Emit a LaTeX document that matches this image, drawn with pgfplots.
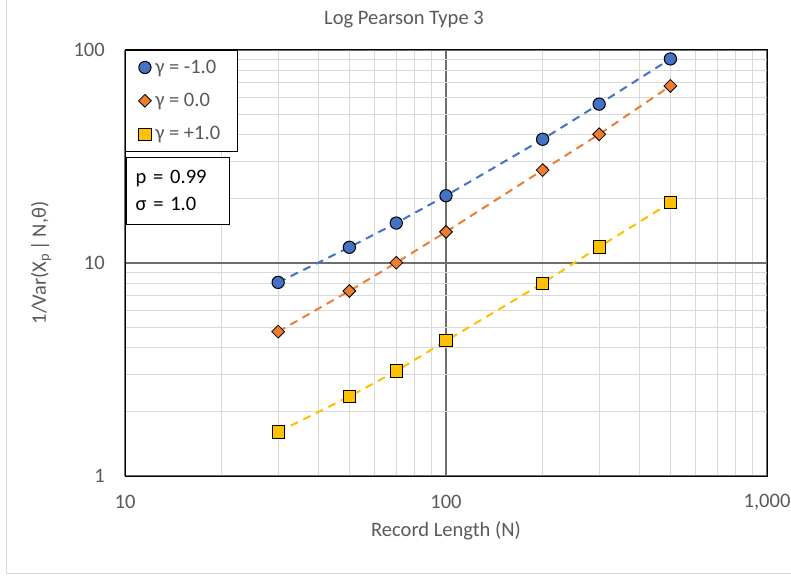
\documentclass[border=0pt]{standalone}
\usepackage{fontspec}
\setmainfont{Carlito}
\usepackage{pgfplots}
\pgfplotsset{compat=1.18}
\newcommand\px{0.75pt}
\definecolor{cblue}{HTML}{4472C4}
\definecolor{corange}{HTML}{ED7D31}
\definecolor{cyellow}{HTML}{FFC000}
\definecolor{tgray}{HTML}{595959}
\definecolor{mgrid}{HTML}{D9D9D9}
\definecolor{Mgrid}{HTML}{6E6E6E}
\definecolor{bgray}{HTML}{D9D9D9}
\begin{document}
\begin{tikzpicture}
\useasboundingbox (-125*\px,-99*\px) rectangle (666*\px,476*\px);
\draw[bgray, line width=0.75pt] (-118*\px,476*\px) -- (-118*\px,-97*\px) -- (666*\px,-97*\px);
\begin{loglogaxis}[
  at={(0,0)}, anchor=south west,
  scale only axis,
  width=642*\px, height=426*\px,
  xmin=10, xmax=1000, ymin=1, ymax=100,
  xtick={10,100,1000}, xticklabels={10,100,{1,000}},
  ytick={1,10,100}, yticklabels={1,10,100},
  major tick length=0pt, minor tick length=0pt,
  grid=both,
  minor grid style={draw=mgrid, line width=0.75pt},
  major grid style={draw=Mgrid, line width=1pt},
  axis line style={draw=black, line width=0.75pt},
  tick label style={font=\fontsize{15.4}{18}\selectfont, text=tgray},
  /pgf/number format/assume math mode=true,
  xticklabel style={anchor=center, inner sep=0pt, yshift=-26*\px},
  yticklabel style={anchor=east, inner sep=0pt, xshift=-20*\px},
  legend cell align=left,
  legend image code/.code={\draw[#1] plot coordinates {(0cm,0cm)};},
  legend style={at={(0,1)}, anchor=north west, draw=black, line width=0.75pt, fill=white,
    font=\fontsize{15.4}{18}\selectfont, text=tgray,
    inner xsep=9.75pt, inner ysep=4pt, row sep=7.5pt,
    nodes={inner sep=3pt}},
]
% dashed connecting lines
\addplot[forget plot, cblue, dashed, line width=1.5pt, dash pattern=on 6pt off 4.5pt] coordinates {
 (30,8.11) (50,11.85) (70,15.4) (100,20.7) (200,38.1) (300,55.7) (500,90.8)};
\addplot[forget plot, corange, dashed, line width=1.5pt, dash pattern=on 6pt off 4.5pt] coordinates {
 (30,4.76) (50,7.39) (70,10.03) (100,14.0) (200,27.3) (300,40.2) (500,67.8)};
\addplot[forget plot, cyellow, dashed, line width=1.5pt, dash pattern=on 6pt off 4.5pt] coordinates {
 (30,1.61) (50,2.36) (70,3.11) (100,4.31) (200,8.03) (300,11.9) (500,19.2)};
% markers
\addplot[only marks, mark=*, mark size=4.6pt, mark options={fill=cblue, draw=black, line width=0.75pt}] coordinates {
 (30,8.11) (50,11.85) (70,15.4) (100,20.7) (200,38.1) (300,55.7) (500,90.8)};
\addlegendentry{γ = -1.0}
\addplot[only marks, mark=square*, mark size=3.4pt, mark options={rotate=45, fill=corange, draw=black, line width=0.6pt}] coordinates {
 (30,4.76) (50,7.39) (70,10.03) (100,14.0) (200,27.3) (300,40.2) (500,67.8)};
\addlegendentry{γ = 0.0}
\addplot[only marks, mark=square*, mark size=4.6pt, mark options={fill=cyellow, draw=black, line width=0.75pt}] coordinates {
 (30,1.61) (50,2.36) (70,3.11) (100,4.31) (200,8.03) (300,11.9) (500,19.2)};
\addlegendentry{γ = +1.0}
\end{loglogaxis}
\node[draw=black, line width=0.75pt, fill=white, anchor=north west, align=left,
  text width=63.75pt, inner xsep=6.75pt, inner ysep=10pt,
  font=\fontsize{15.4}{20}\selectfont, text=black] at (1*\px,319.3*\px) {p = 0.99\\σ = 1.0};
\node[font=\fontsize{15.4}{18}\selectfont, text=tgray] at (279*\px,456*\px) {Log Pearson Type 3};
\node[font=\fontsize{15.4}{18}\selectfont, text=tgray] at (321*\px,-55*\px) {Record Length (N)};
\node[font=\fontsize{15.4}{18}\selectfont, text=tgray, rotate=90] at (-84*\px,213*\px) {1/Var(X\textsubscript{p}\,|\,N,θ)};
\end{tikzpicture}
\end{document}
